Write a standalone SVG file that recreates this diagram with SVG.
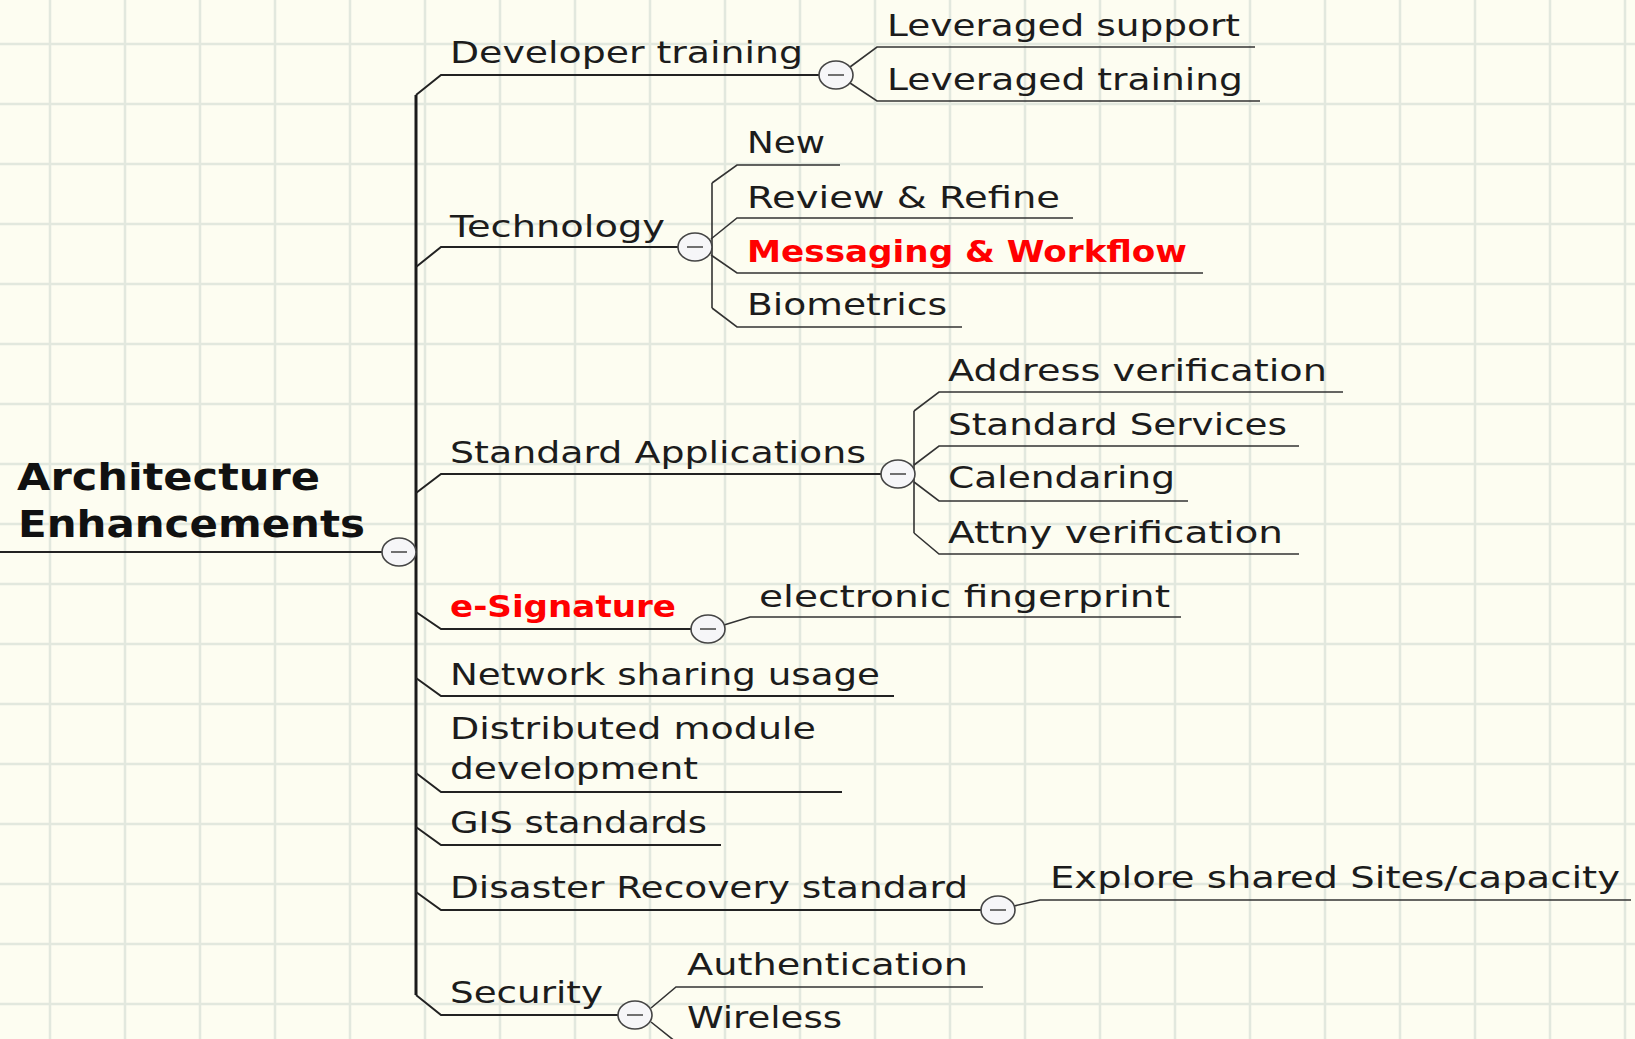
<svg xmlns="http://www.w3.org/2000/svg" width="1635" height="1039" viewBox="0 0 1635 1039">
<defs>
<style>
.bg { fill: #fdfdf1; }
.grid line { stroke: #e2e8de; stroke-width: 2.5; }
.t { font-family: "DejaVu Sans", Verdana, sans-serif; font-size: 30px; fill: #1c1c1c; }
.root { font-size: 38px; font-weight: bold; fill: #111; }
.red { fill: #ff0000; font-weight: bold; }
.c1 { fill: none; stroke: #222; stroke-width: 2; }
.c2 { fill: none; stroke: #333; stroke-width: 1.6; }
.trunk { fill: none; stroke: #1a1a1a; stroke-width: 3; }
.tog ellipse { fill: #f6f6f8; stroke: #444; stroke-width: 1.6; }
.tog line { stroke: #707070; stroke-width: 2; }
</style>
</defs>
<rect class="bg" x="0" y="0" width="1635" height="1039"/>
<g class="grid">
<line x1="50" y1="0" x2="50" y2="1039"/><line x1="125" y1="0" x2="125" y2="1039"/><line x1="200" y1="0" x2="200" y2="1039"/><line x1="275" y1="0" x2="275" y2="1039"/><line x1="350" y1="0" x2="350" y2="1039"/><line x1="425" y1="0" x2="425" y2="1039"/><line x1="500" y1="0" x2="500" y2="1039"/><line x1="575" y1="0" x2="575" y2="1039"/><line x1="650" y1="0" x2="650" y2="1039"/><line x1="725" y1="0" x2="725" y2="1039"/><line x1="800" y1="0" x2="800" y2="1039"/><line x1="875" y1="0" x2="875" y2="1039"/><line x1="950" y1="0" x2="950" y2="1039"/><line x1="1025" y1="0" x2="1025" y2="1039"/><line x1="1100" y1="0" x2="1100" y2="1039"/><line x1="1175" y1="0" x2="1175" y2="1039"/><line x1="1250" y1="0" x2="1250" y2="1039"/><line x1="1325" y1="0" x2="1325" y2="1039"/><line x1="1400" y1="0" x2="1400" y2="1039"/><line x1="1475" y1="0" x2="1475" y2="1039"/><line x1="1550" y1="0" x2="1550" y2="1039"/><line x1="1625" y1="0" x2="1625" y2="1039"/>
<line x1="0" y1="44" x2="1635" y2="44"/><line x1="0" y1="104" x2="1635" y2="104"/><line x1="0" y1="164" x2="1635" y2="164"/><line x1="0" y1="224" x2="1635" y2="224"/><line x1="0" y1="284" x2="1635" y2="284"/><line x1="0" y1="344" x2="1635" y2="344"/><line x1="0" y1="404" x2="1635" y2="404"/><line x1="0" y1="464" x2="1635" y2="464"/><line x1="0" y1="524" x2="1635" y2="524"/><line x1="0" y1="584" x2="1635" y2="584"/><line x1="0" y1="644" x2="1635" y2="644"/><line x1="0" y1="704" x2="1635" y2="704"/><line x1="0" y1="764" x2="1635" y2="764"/><line x1="0" y1="824" x2="1635" y2="824"/><line x1="0" y1="884" x2="1635" y2="884"/><line x1="0" y1="944" x2="1635" y2="944"/><line x1="0" y1="1004" x2="1635" y2="1004"/>
</g>

<g id="connectors">
<path class="trunk" d="M416,95 V995"/>
<path class="c1" d="M0,552 H382"/>
<path class="c1" d="M416,95 L441,75 H819"/>
<path class="c1" d="M416,267 L441,247 H678"/>
<path class="c1" d="M416,493 L441,474 H881"/>
<path class="c1" d="M416,612 L441,629 H691"/>
<path class="c1" d="M416,678 L441,696 H894"/>
<path class="c1" d="M416,773 L441,792 H842"/>
<path class="c1" d="M416,827 L441,845 H721"/>
<path class="c1" d="M416,892 L441,910 H981"/>
<path class="c1" d="M416,995 L441,1015 H618"/>
<path class="c2" d="M850,67 L877,47 H1255"/>
<path class="c2" d="M850,83 L877,101 H1260"/>
<path class="c2" d="M712,183 V308"/>
<path class="c2" d="M712,183 L737,165 H840"/>
<path class="c2" d="M711,239 L737,218 H1073"/>
<path class="c2" d="M711,255 L737,273 H1203"/>
<path class="c2" d="M712,308 L737,327 H962"/>
<path class="c2" d="M914,411 V533"/>
<path class="c2" d="M914,411 L939,392 H1343"/>
<path class="c2" d="M914,465 L939,446 H1299"/>
<path class="c2" d="M914,482 L939,501 H1188"/>
<path class="c2" d="M914,533 L939,554 H1299"/>
<path class="c2" d="M724,625 L750,617 H1181"/>
<path class="c2" d="M1014,906 L1040,900 H1631"/>
<path class="c2" d="M651,1008 L676,987 H983"/>
<path class="c2" d="M651,1022 L676,1042 H990"/>
</g>

<g id="root">
<text class="t root" x="17" y="490" textLength="303" lengthAdjust="spacingAndGlyphs">Architecture</text>
<text class="t root" x="18" y="537" textLength="347" lengthAdjust="spacingAndGlyphs">Enhancements</text>
<g class="tog"><ellipse cx="399" cy="552" rx="17" ry="14"/><line x1="391" y1="552" x2="407" y2="552"/></g>
</g>

<g id="developer-training">
<text class="t" x="450" y="63" textLength="353" lengthAdjust="spacingAndGlyphs">Developer training</text>
<g class="tog"><ellipse cx="836" cy="75" rx="17" ry="14"/><line x1="828" y1="75" x2="844" y2="75"/></g>
</g>
<g id="leveraged-support"><text class="t" x="887" y="36" textLength="353" lengthAdjust="spacingAndGlyphs">Leveraged support</text></g>
<g id="leveraged-training"><text class="t" x="887" y="90" textLength="356" lengthAdjust="spacingAndGlyphs">Leveraged training</text></g>

<g id="technology">
<text class="t" x="450" y="237" textLength="215" lengthAdjust="spacingAndGlyphs">Technology</text>
<g class="tog"><ellipse cx="695" cy="247" rx="17" ry="14"/><line x1="687" y1="247" x2="703" y2="247"/></g>
</g>
<g id="new"><text class="t" x="747" y="153" textLength="78" lengthAdjust="spacingAndGlyphs">New</text></g>
<g id="review-refine"><text class="t" x="747" y="208" textLength="313" lengthAdjust="spacingAndGlyphs">Review &amp; Refine</text></g>
<g id="messaging-workflow"><text class="t red" x="747" y="262" textLength="440" lengthAdjust="spacingAndGlyphs">Messaging &amp; Workflow</text></g>
<g id="biometrics"><text class="t" x="747" y="315" textLength="200" lengthAdjust="spacingAndGlyphs">Biometrics</text></g>

<g id="standard-applications">
<text class="t" x="450" y="463" textLength="416" lengthAdjust="spacingAndGlyphs">Standard Applications</text>
<g class="tog"><ellipse cx="898" cy="474" rx="17" ry="14"/><line x1="890" y1="474" x2="906" y2="474"/></g>
</g>
<g id="address-verification"><text class="t" x="948" y="381" textLength="379" lengthAdjust="spacingAndGlyphs">Address verification</text></g>
<g id="standard-services"><text class="t" x="948" y="435" textLength="339" lengthAdjust="spacingAndGlyphs">Standard Services</text></g>
<g id="calendaring"><text class="t" x="948" y="488" textLength="227" lengthAdjust="spacingAndGlyphs">Calendaring</text></g>
<g id="attny-verification"><text class="t" x="948" y="543" textLength="335" lengthAdjust="spacingAndGlyphs">Attny verification</text></g>

<g id="e-signature">
<text class="t red" x="450" y="617" textLength="226" lengthAdjust="spacingAndGlyphs">e-Signature</text>
<g class="tog"><ellipse cx="708" cy="629" rx="17" ry="14"/><line x1="700" y1="629" x2="716" y2="629"/></g>
</g>
<g id="electronic-fingerprint"><text class="t" x="759" y="607" textLength="411" lengthAdjust="spacingAndGlyphs">electronic fingerprint</text></g>

<g id="network-sharing-usage"><text class="t" x="450" y="685" textLength="430" lengthAdjust="spacingAndGlyphs">Network sharing usage</text></g>
<g id="distributed-module-development">
<text class="t" x="450" y="739" textLength="366" lengthAdjust="spacingAndGlyphs">Distributed module</text>
<text class="t" x="450" y="779" textLength="248" lengthAdjust="spacingAndGlyphs">development</text>
</g>
<g id="gis-standards"><text class="t" x="450" y="833" textLength="257" lengthAdjust="spacingAndGlyphs">GIS standards</text></g>

<g id="disaster-recovery-standard">
<text class="t" x="450" y="898" textLength="518" lengthAdjust="spacingAndGlyphs">Disaster Recovery standard</text>
<g class="tog"><ellipse cx="998" cy="910" rx="17" ry="14"/><line x1="990" y1="910" x2="1006" y2="910"/></g>
</g>
<g id="explore-shared-sites"><text class="t" x="1050" y="888" textLength="570" lengthAdjust="spacingAndGlyphs">Explore shared Sites/capacity</text></g>

<g id="security">
<text class="t" x="450" y="1003" textLength="153" lengthAdjust="spacingAndGlyphs">Security</text>
<g class="tog"><ellipse cx="635" cy="1015" rx="17" ry="14"/><line x1="627" y1="1015" x2="643" y2="1015"/></g>
</g>
<g id="authentication"><text class="t" x="687" y="975" textLength="281" lengthAdjust="spacingAndGlyphs">Authentication</text></g>
<g id="wireless"><text class="t" x="687" y="1028" textLength="155" lengthAdjust="spacingAndGlyphs">Wireless</text></g>
</svg>
